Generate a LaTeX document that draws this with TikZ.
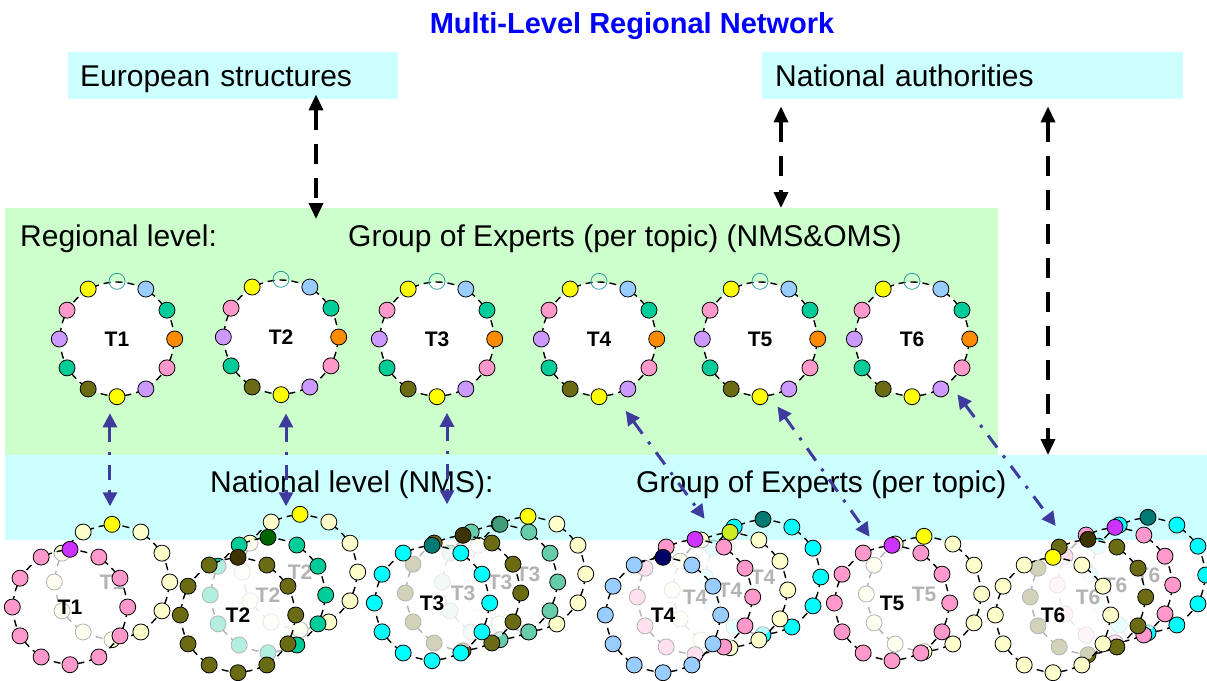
\documentclass[tikz,border=0pt]{standalone}
\usepackage{fontspec}
\setmainfont{Liberation Sans}
\usetikzlibrary{positioning,arrows.meta}

\definecolor{regiongreen}{HTML}{CCFFCC}
\definecolor{levelcyan}{HTML}{CCFFFF}
\definecolor{linkblue}{HTML}{3F3A9E}
\definecolor{dpink}{HTML}{FF99CC}
\definecolor{dviolet}{HTML}{CC99FF}
\definecolor{dblue}{HTML}{99CCFF}
\definecolor{dteal}{HTML}{00CC99}
\definecolor{dorange}{HTML}{FF8C00}
\definecolor{dyellow}{HTML}{FFFF00}
\definecolor{dolive}{HTML}{6B6B14}
\definecolor{dcream}{HTML}{FFFFCC}
\definecolor{dcyan}{HTML}{00FFFF}
\definecolor{daqua}{HTML}{66CCAA}
\definecolor{dseagreen}{HTML}{3E9C78}
\definecolor{dpurple}{HTML}{CC33FF}
\definecolor{ddarkolive}{HTML}{3D3300}
\definecolor{ddarkgreen}{HTML}{006600}
\definecolor{ddarkteal}{HTML}{007A73}
\definecolor{dnavy}{HTML}{000066}
\definecolor{dlime}{HTML}{CCEE22}
\definecolor{dopen}{HTML}{2FA0A0}

% regional topic ring: name/label, position
\newcommand\topicring[2]{%
  \node[ring,fill=white] (#1) at (#2) {#1};
  \foreach \a/\c in {60/dblue,30/dteal,0/dorange,-30/dpink,-60/dviolet,-90/dyellow,
                     -120/dolive,-150/dteal,180/dviolet,150/dpink,120/dyellow}
    \node[dot,fill=\c] (#1-d\a) at (#1.\a) {};
  \node[dot,draw=dopen,fill=none] (#1-d90) at (#1.90) {};
}

% national expert ring: name, position, colour, top colour, label
\newcommand\expertring[5]{%
  \begin{scope}
    \clip (0,540) rectangle (1207,680);
    \fill[white,fill opacity=.7] (#2) circle[radius=57pt];
  \end{scope}
  \node[ring] (#1) at (#2) {#5};
  \foreach \a in {-240,-210,...,60}
    \node[dot,fill=#3] (#1-d\a) at (#1.\a) {};
  \node[dot,fill=#4] (#1-d90) at (#1.90) {};
}

\begin{document}
\begin{tikzpicture}[x=1pt,y=-1pt,
  level/.style={inner sep=0,anchor=north west},
  panel/.style={fill=levelcyan,inner sep=0,minimum height=47pt,text height=21pt,text depth=0pt,
                align=left,anchor=north west,font=\fontsize{30}{33}\selectfont},
  caption/.style={inner sep=0,anchor=base west,font=\fontsize{30}{33}\selectfont},
  ring/.style={circle,draw,dash pattern=on 7pt off 5pt,line width=1.4pt,minimum size=114pt,
               inner sep=0,font=\fontsize{21}{23}\selectfont\bfseries},
  dot/.style={circle,draw=black,line width=.8pt,minimum size=16pt,inner sep=0},
  link/.style={{Triangle[length=14pt,width=14pt]}-{Triangle[length=14pt,width=14pt]},
               draw=linkblue,line width=3pt,dash pattern=on 15pt off 10pt on 3pt off 10pt},
  bigarrow/.style={{Triangle[length=16pt,width=14pt]}-{Triangle[length=16pt,width=14pt]},
                   line width=3.5pt,dash pattern=on 20pt off 14pt},
]
\useasboundingbox (0,0) rectangle (1207,680);

% levels
\node[level,fill=regiongreen,minimum width=993pt,minimum height=247pt] (reg) at (5,208) {};
\node[level,fill=levelcyan,minimum width=1202pt,minimum height=85pt] (band) at (5,455) {};

% title and upper structures
\node[anchor=base,inner sep=0,font=\fontsize{29}{32}\selectfont\bfseries,text=blue] (title) at (632,33)
  {Multi-Level Regional Network};
\node[panel,text width=306pt,inner xsep=12pt] (euro) at (68,52) {European structures};
\node[panel,text width=395pt,inner xsep=13pt] (natauth) at (762,52) {National authorities};

% level captions
\node[caption] (reglbl) at (20,246) {Regional level:};
\node[caption] (reggrp) at (348,246) {Group of Experts (per topic) (NMS\&OMS)};
\node[caption] (natlbl) at (210,492) {National level (NMS):};
\node[caption] (natgrp) at (636,492) {Group of Experts (per topic)};

% regional groups
\topicring{T1}{117,339}
\topicring{T2}{281,337}
\topicring{T3}{437,339}
\topicring{T4}{599,339}
\topicring{T5}{760,339}
\topicring{T6}{912,339}

% national groups, back to front
\expertring{N1b}{112,582}{dcream}{dyellow}{T1}
\expertring{N1a}{70,607}{dpink}{dpurple}{T1}

\expertring{N2c}{300,572}{dcream}{dyellow}{T2}
\expertring{N2b}{268,595}{dteal}{ddarkgreen}{T2}
\expertring{N2a}{238,615}{dolive}{ddarkolive}{T2}

\expertring{N3d}{528,574}{dcream}{dyellow}{T3}
\expertring{N3c}{500,582}{daqua}{dseagreen}{T3}
\expertring{N3b}{463,593}{dolive}{ddarkolive}{T3}
\expertring{N3a}{432,603}{dcyan}{ddarkteal}{T3}

\expertring{N4d}{763,577}{dcyan}{ddarkteal}{T4}
\expertring{N4c}{730,590}{dcream}{dlime}{T4}
\expertring{N4b}{695,597}{dpink}{dpurple}{T4}
\expertring{N4a}{663,615}{dblue}{dnavy}{T4}

\expertring{N5b}{924,594}{dcream}{dyellow}{T5}
\expertring{N5a}{892,603}{dpink}{dpurple}{T5}

\expertring{N6d}{1148,575}{dcyan}{ddarkteal}{T6}
\expertring{N6c}{1115,585}{dpink}{dpurple}{T6}
\expertring{N6b}{1088,597}{dolive}{ddarkolive}{T6}
\expertring{N6a}{1053,615}{dcream}{dyellow}{T6}

% links between the levels
\draw[link,shorten <=17pt,shorten >=18pt] (T1.-97) -- (T1.-97 |- N1b.north);
\draw[link,shorten <=19pt,shorten >=8pt] (T2.-85) -- (T2.-85 |- N2c.north);
\draw[link,shorten <=17pt,shorten >=12pt] (T3.-80) -- (T3.-80 |- N3d.north);
\draw[link,shorten <=20pt,shorten >=37pt] (T4.-75) -- (N4b.57);
\draw[link,shorten <=13pt,shorten >=13pt] (T5.-80) -- (N5a.105);
\draw[link,shorten <=14pt,shorten >=21pt] (T6.-50) -- (N6b.110);

% links to European and national structures
\coordinate (euarrow) at (316,0);
\coordinate (natarrow) at (781,0);
\coordinate (bandarrow) at (1048,0);
\draw[bigarrow,shorten <=-5pt,shorten >=-11pt] (euarrow |- euro.south) -- (euarrow |- reg.north);
\draw[bigarrow,shorten <=7pt] (natarrow |- natauth.south) -- (natarrow |- reg.north);
\draw[bigarrow,shorten <=7pt] (bandarrow |- natauth.south) -- (bandarrow |- band.north);

\end{tikzpicture}
\end{document}
